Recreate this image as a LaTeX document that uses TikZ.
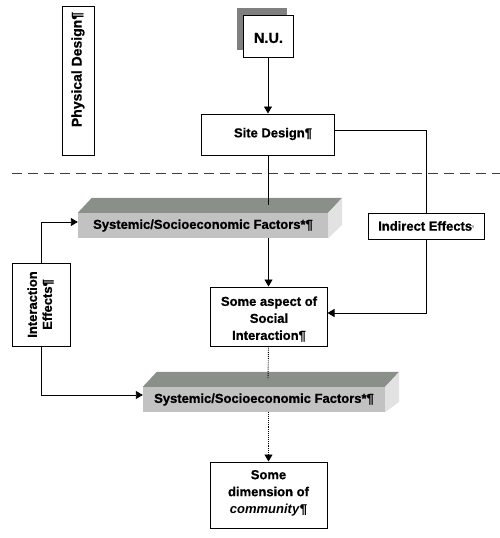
\documentclass[tikz,border=0pt]{standalone}
\usepackage{fontspec}
\setmainfont{Liberation Sans}[BoldFeatures={FakeBold=0.8}]
\usetikzlibrary{arrows.meta,calc}
\definecolor{slabfront}{HTML}{C2C2C2}
\definecolor{slabtop}{HTML}{8A8F8A}
\definecolor{slabside}{HTML}{E2E2E2}
\definecolor{shadowgray}{HTML}{808080}
\begin{document}
\begin{tikzpicture}[x=1pt,y=-1pt,
  txt/.style={font=\bfseries\fontsize{13}{17}\selectfont, align=center},
  box/.style={txt, draw, line width=1pt, fill=white, inner sep=0pt},
  slab/.style={txt, fill=slabfront, inner sep=0pt},
  conn/.style={line width=0.9pt},
  arr/.style={conn, -{Triangle[length=7pt,width=8pt]}},
  dot/.style={line width=0.9pt, densely dotted}
]
\useasboundingbox (0,0) rectangle (500,538);

% dashed separator
\coordinate (dl) at (12,173);
\coordinate (dr) at (500,173);
\draw[gray!50!black, line width=1pt, dash pattern=on 10pt off 6pt] (dl) -- (dr);

% Physical Design
\node[box, minimum width=32pt, minimum height=149pt] (phys) at (78,80.5)
  {\rotatebox{90}{\fontsize{14}{17}\selectfont\hspace*{22pt}Physical Design¶}};

% N.U. with shadow
\fill[shadowgray] (237,8) rectangle (287,50);
\node[box, minimum width=50pt, minimum height=42pt] (nu) at (268,36) {};
\node[txt, font=\bfseries\fontsize{14.5}{17}\selectfont] (nut) at (268.5,38) {N.U.};

% Site Design
\node[box, minimum width=133pt, minimum height=41pt] (site) at (268,134.5) {};
\node[txt] (sitet) at (273,134) {Site Design¶};

% Indirect Effects
\node[box, minimum width=116pt, minimum height=26pt] (ind) at (426,226)
  {Indirect Effects\textcolor{gray}{\raisebox{3pt}{\fontsize{3}{3}\selectfont ¶}}};

% Systemic slab 1
\node[slab, minimum width=250pt, minimum height=25pt] (sys1) at (203,225.5) {Systemic/Socioeconomic Factors*¶};
\fill[slabtop] (sys1.north west) -- ++(14,-15) -- ($(sys1.north east)+(14,-15)$) -- (sys1.north east) -- cycle;
\fill[slabside] (sys1.north east) -- ++(14,-15) -- ++(0,27) -- (sys1.south east) -- cycle;
\coordinate (s1top) at (268,205);

% Some aspect
\node[box, minimum width=117pt, minimum height=59pt] (asp) at (268.5,316.5) {};
\node[txt] (aspt) at (269,319) {Some aspect of\\Social\\Interaction¶};

% Interaction Effects
\node[box, minimum width=58pt, minimum height=83pt] (inter) at (41,304.5)
  {\rotatebox{90}{\begin{tabular}{@{}c@{}}Interaction\\[-2pt]Effects¶\end{tabular}}};

% Systemic slab 2
\node[slab, minimum width=242pt, minimum height=25pt] (sys2) at (264,399.5) {Systemic/Socioeconomic Factors*¶};
\fill[slabtop] (sys2.north west) -- ++(14,-15) -- ($(sys2.north east)+(14,-15)$) -- (sys2.north east) -- cycle;
\fill[slabside] (sys2.north east) -- ++(14,-15) -- ++(0,30) -- (sys2.south east) -- cycle;
\coordinate (s2top) at (268,379);

% Some dimension
\node[box, minimum width=117pt, minimum height=66pt] (dim) at (268.5,495) {};
\node[txt] (dimt) at (268.5,493) {Some\\dimension of\\\textit{community}¶};

% connectors
\draw[arr] (nu.south) -- (site.north);
\draw[conn] (site.south) -- (s1top);
\draw[conn] ([yshift=4.5pt]site.east) -| (ind.north);
\draw[arr] (ind.south) |- ([yshift=3.5pt]asp.east);
\draw[arr] (asp.north |- sys1.south) -- (asp.north);
\draw[arr] (inter.north) |- ([yshift=3.5pt]sys1.west);
\draw[arr] (inter.south) |- ([yshift=4.5pt]sys2.west);
\draw[dot] (asp.south) -- (s2top);
\draw[dot, -{Triangle[length=7pt,width=8pt]}] (dim.north |- sys2.south) -- (dim.north);
\end{tikzpicture}
\end{document}
